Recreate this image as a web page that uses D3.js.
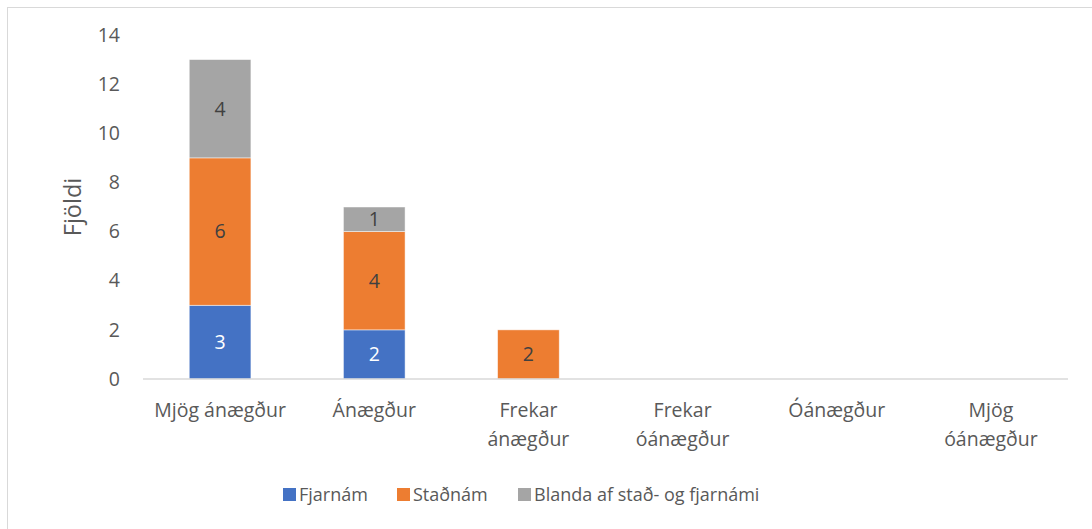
<!DOCTYPE html>
<html lang="is">
<head>
<meta charset="UTF-8">
<title>Fjöldi</title>
<script src="https://cdn.jsdelivr.net/npm/d3@7"></script>
<style>
  body { margin: 0; background: #fff; }
  text { font-family: "Open Sans", "Noto Sans", sans-serif; fill: #595959; }
</style>
</head>
<body>
<script>
const categories = [["Mjög ánægður"], ["Ánægður"], ["Frekar", "ánægður"], ["Frekar", "óánægður"], ["Óánægður"], ["Mjög", "óánægður"]];
const seriesNames = ["Fjarnám", "Staðnám", "Blanda af stað- og fjarnámi"];
const fjarnam = [3, 2, 0, 0, 0, 0];
const stadnam = [6, 4, 2, 0, 0, 0];
const blanda = [4, 1, 0, 0, 0, 0];
const yTicks = [0, 2, 4, 6, 8, 10, 12, 14];
const colors = ["#4472C4", "#ED7D31", "#A5A5A5"];
const labelColors = ["#ffffff", "#404040", "#404040"];

const w = 1092, h = 529;
const plotLeft = 143, plotRight = 1068, plotTop = 35, plotBottom = 379;

const svg = d3.select("body").append("svg")
    .attr("width", w)
    .attr("height", h);

// chart frame
svg.append("rect")
    .attr("x", 7.5).attr("y", 7.5)
    .attr("width", 1100).attr("height", 540)
    .attr("fill", "none")
    .attr("stroke", "#d9d9d9");

const rows = categories.map((c, i) => ({ i: i, Fjarnám: fjarnam[i], Staðnám: stadnam[i], "Blanda af stað- og fjarnámi": blanda[i] }));
const stack = d3.stack().keys(seriesNames)(rows);

const x = d3.scaleBand()
    .domain(d3.range(categories.length))
    .range([plotLeft, plotRight])
    .paddingInner(0.6)
    .paddingOuter(0.3);

const y = d3.scaleLinear()
    .domain([0, 14])
    .range([plotBottom, plotTop]);

// y tick labels
const yAxis = d3.axisLeft(y).tickValues(yTicks).tickSize(0).tickPadding(0);
const gy = svg.append("g")
    .attr("transform", "translate(120,0)")
    .call(yAxis);
gy.attr("font-family", null).attr("font-size", null);
gy.select(".domain").remove();
gy.selectAll("text")
    .attr("font-size", 19.5)
    .style("fill", "#595959");

// bars
stack.forEach((s, k) => {
  const g = svg.append("g");
  g.selectAll("rect")
    .data(s.filter(d => d[1] - d[0] > 0))
    .join("rect")
    .attr("x", d => x(d.data.i))
    .attr("y", d => y(d[1]))
    .attr("width", x.bandwidth())
    .attr("height", d => y(d[0]) - y(d[1]))
    .attr("fill", colors[k])
    .attr("stroke", "#ffffff")
    .attr("stroke-opacity", 0.6)
    .attr("stroke-width", 0.8);
  g.selectAll("text")
    .data(s.filter(d => d[1] - d[0] > 0))
    .join("text")
    .attr("x", d => x(d.data.i) + x.bandwidth() / 2)
    .attr("y", d => y((d[0] + d[1]) / 2))
    .attr("dy", "0.35em")
    .attr("text-anchor", "middle")
    .attr("font-size", 19.5)
    .style("fill", labelColors[k])
    .text(d => d[1] - d[0]);
});

// x axis
const xAxis = d3.axisBottom(x).tickSize(0).tickFormat("");
const gx = svg.append("g")
    .attr("transform", "translate(0," + plotBottom + ")")
    .call(xAxis);
gx.attr("font-family", null).attr("font-size", null);
gx.select(".domain").attr("stroke", "#d9d9d9").attr("stroke-width", 1.3).attr("d", "M" + plotLeft + ",0H" + plotRight);

gx.selectAll(".tick").each(function(d) {
  const t = d3.select(this).append("text")
    .attr("text-anchor", "middle")
    .attr("font-size", 19.5)
    .style("fill", "#595959");
  categories[d].forEach((line, j) => {
    t.append("tspan").attr("x", 0).attr("y", 38 + j * 29).text(line);
  });
});

// y title
svg.append("text")
    .attr("transform", "translate(81,207) rotate(-90)")
    .attr("text-anchor", "middle")
    .attr("font-size", 23.5)
    .text("Fjöldi");

// legend
const legendX = [283, 397, 518];
const legend = svg.append("g");
seriesNames.forEach((n, k) => {
  legend.append("rect")
    .attr("x", legendX[k]).attr("y", 488)
    .attr("width", 13).attr("height", 13)
    .attr("fill", colors[k]);
  legend.append("text")
    .attr("x", legendX[k] + 16).attr("y", 495)
    .attr("dy", "0.35em")
    .attr("font-size", 18)
    .text(n);
});
</script>
</body>
</html>
